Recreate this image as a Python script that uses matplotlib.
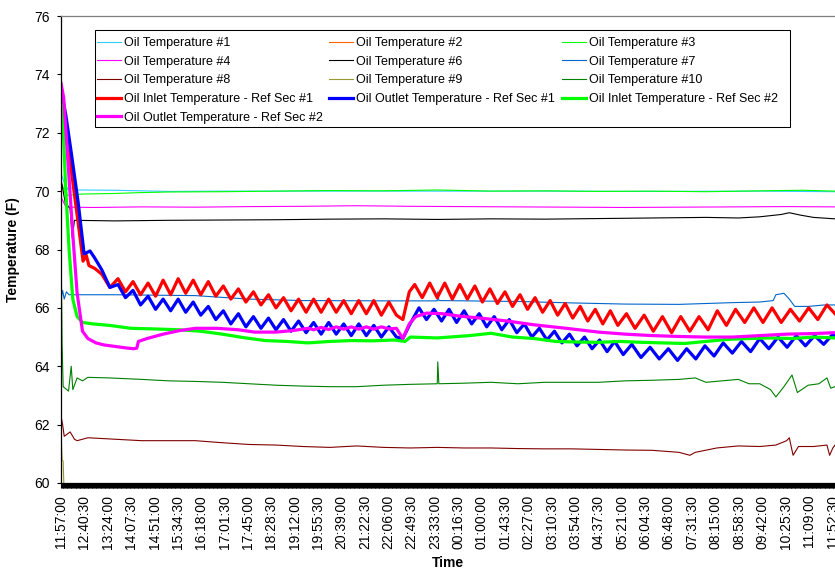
"""
Oil temperature log, 24 h run -- recreated as a static chart.
"""
import matplotlib
matplotlib.use("Agg")
import matplotlib.pyplot as plt
from matplotlib.legend import Legend
from matplotlib.lines import Line2D
from matplotlib.patches import Rectangle
from matplotlib.ticker import MultipleLocator

plt.rcParams["font.family"] = ["Liberation Sans", "DejaVu Sans"]

# time axis: minutes elapsed since 11:57:00
tick_minutes = [i * 43.5 for i in range(34)]
tick_labels = [
    "11:57:00", "12:40:30", "13:24:00", "14:07:30", "14:51:00", "15:34:30",
    "16:18:00", "17:01:30", "17:45:00", "18:28:30", "19:12:00", "19:55:30",
    "20:39:00", "21:22:30", "22:06:00", "22:49:30", "23:33:00", "00:16:30",
    "01:00:00", "01:43:30", "02:27:00", "03:10:30", "03:54:00", "04:37:30",
    "05:21:00", "06:04:30", "06:48:00", "07:31:30", "08:15:00", "08:58:30",
    "09:42:00", "10:25:30", "11:09:00", "11:52:30",
]

# ---- thin thermocouples ----
t_oil1 = [0, 6, 13, 22, 30, 100, 200, 300, 500, 700, 900, 1100, 1300, 1440]
oil1 = [70.6, 70.3, 70.05, 70.12, 70.04, 70.03, 69.99, 70.0, 70.0, 70.0,
        70.0, 69.99, 70.0, 69.98]

t_oil2 = [0, 1440]
oil2 = [57.5, 57.5]  # below the plotted range

t_oil3 = [0, 8, 13, 40, 100, 150, 200, 300, 400, 500, 600, 700, 800, 900,
          1000, 1100, 1200, 1300, 1380, 1440]
oil3 = [70.3, 69.95, 69.86, 69.9, 69.92, 69.95, 69.97, 69.98, 70.0, 70.02,
        70.01, 70.04, 70.0, 70.01, 69.99, 70.0, 69.98, 70.01, 70.03, 70.0]

t_oil4 = [0, 8, 14, 60, 150, 250, 350, 450, 550, 650, 750, 850, 950, 1050,
          1150, 1250, 1350, 1440]
oil4 = [69.8, 69.5, 69.45, 69.44, 69.46, 69.45, 69.47, 69.48, 69.5, 69.48,
        69.47, 69.46, 69.45, 69.44, 69.45, 69.46, 69.47, 69.46]

t_oil6 = [0, 8, 17, 21, 25, 100, 200, 300, 400, 500, 600, 700, 800, 900,
          1000, 1100, 1200, 1260, 1300, 1340, 1355, 1375, 1400, 1440]
oil6 = [70.4, 69.6, 69.4, 68.4, 69.0, 68.98, 69.0, 69.01, 69.02, 69.04,
        69.05, 69.03, 69.05, 69.04, 69.06, 69.08, 69.1, 69.08, 69.12, 69.2,
        69.26, 69.18, 69.1, 69.05]

t_oil7 = [0, 3, 6, 10, 15, 100, 250, 350, 450, 600, 700, 701, 703, 850,
          950, 1050, 1150, 1250, 1300, 1325, 1330, 1345, 1355, 1365, 1390,
          1420, 1440]
oil7 = [66.3, 66.6, 66.3, 66.55, 66.45, 66.45, 66.42, 66.3, 66.25, 66.24,
        66.24, 66.55, 66.25, 66.22, 66.17, 66.13, 66.12, 66.18, 66.2, 66.25,
        66.45, 66.5, 66.3, 66.05, 66.05, 66.1, 66.1]

t_oil8 = [0, 3, 6, 17, 25, 30, 50, 100, 150, 200, 250, 300, 350, 400, 450,
          500, 550, 600, 650, 700, 750, 800, 850, 900, 950, 1000, 1050, 1100,
          1150, 1170, 1180, 1220, 1260, 1300, 1330, 1350, 1355, 1362, 1372,
          1400, 1425, 1430, 1436, 1440]
oil8 = [62.3, 62.0, 61.6, 61.75, 61.5, 61.45, 61.55, 61.5, 61.45, 61.45,
        61.45, 61.38, 61.32, 61.3, 61.25, 61.22, 61.27, 61.22, 61.2, 61.22,
        61.2, 61.2, 61.18, 61.17, 61.17, 61.15, 61.13, 61.12, 61.05, 60.95,
        61.05, 61.2, 61.27, 61.25, 61.3, 61.45, 61.55, 60.95, 61.25, 61.25,
        61.3, 60.95, 61.2, 61.3]

t_oil9 = [0, 2, 4, 6, 10, 1440]
oil9 = [61.8, 60.8, 60.75, 59.5, 58.5, 58.5]  # drops out of range

t_oil10 = [0, 2, 4, 14, 19, 22, 30, 40, 50, 90, 150, 200, 250, 300, 350,
           400, 450, 500, 550, 600, 650, 700, 701, 703, 750, 800, 850, 900,
           950, 1000, 1050, 1100, 1150, 1180, 1200, 1230, 1260, 1280, 1300,
           1320, 1330, 1345, 1360, 1370, 1390, 1410, 1425, 1432, 1440]
oil10 = [68.5, 64.8, 63.3, 63.15, 64.0, 63.2, 63.6, 63.5, 63.62, 63.6,
         63.55, 63.5, 63.48, 63.45, 63.4, 63.35, 63.32, 63.3, 63.3, 63.35,
         63.38, 63.4, 64.15, 63.4, 63.42, 63.45, 63.4, 63.45, 63.45, 63.45,
         63.5, 63.52, 63.55, 63.6, 63.45, 63.5, 63.55, 63.4, 63.4, 63.2,
         62.95, 63.3, 63.7, 63.1, 63.35, 63.4, 63.6, 63.25, 63.3]

# ---- reference-section inlet/outlet (thick) ----
t_in1 = [0, 9, 20, 32, 41, 47, 52, 63, 76, 91,
         106, 120, 134, 148, 162, 176, 190, 204, 218, 232, 246, 260, 274,
         288, 302, 316, 330, 344, 358, 372, 386, 400, 414, 428, 442, 456,
         470, 484, 498, 512, 526, 540, 554, 568, 582, 596, 610, 624, 636,
         648, 658, 672, 686, 700, 714, 728, 742, 756, 770, 784, 798, 812,
         826, 840, 854, 868, 882, 896, 910, 924, 938, 952, 966, 980, 994,
         1008, 1022, 1036, 1052, 1068, 1085, 1102, 1119, 1136, 1153, 1170,
         1187, 1204, 1221, 1238, 1255, 1272, 1289, 1306, 1323, 1340, 1357,
         1374, 1391, 1408, 1425, 1440]
inlet1 = [73.4, 72.3, 70.6, 68.9, 67.6, 67.8, 67.45, 67.35, 67.15, 66.7,
          67.0, 66.55, 66.9, 66.45, 66.85, 66.4, 66.95, 66.45, 67.0, 66.5,
          66.95, 66.45, 66.9, 66.4, 66.75, 66.3, 66.65, 66.2, 66.55, 66.1,
          66.45, 66.0, 66.35, 65.9, 66.3, 65.85, 66.3, 65.85, 66.3, 65.85,
          66.25, 65.8, 66.25, 65.8, 66.25, 65.75, 66.2, 65.75, 65.6,
          66.55, 66.8, 66.35, 66.85, 66.35, 66.85, 66.3, 66.8, 66.3, 66.75,
          66.2, 66.65, 66.15, 66.55, 66.05, 66.45, 65.95, 66.35, 65.85,
          66.25, 65.75, 66.15, 65.65, 66.05, 65.55, 65.95, 65.45, 65.9,
          65.4, 65.8, 65.3, 65.75, 65.2, 65.7, 65.15, 65.7, 65.2, 65.7,
          65.25, 65.9, 65.4, 65.95, 65.5, 66.0, 65.5, 66.0, 65.5, 65.95,
          65.55, 66.0, 65.6, 66.1, 65.8]

t_out1 = [0, 9, 20, 32, 43, 54, 63, 76, 91,
          106, 120, 134, 148, 162, 176, 190, 204, 218, 232, 246, 260, 274,
          288, 302, 316, 330, 344, 358, 372, 386, 400, 414, 428, 442, 456,
          470, 484, 498, 512, 526, 540, 554, 568, 582, 596, 610, 624, 636,
          648, 666, 680, 694, 708, 722, 736, 750, 764, 778, 792, 806, 820,
          834, 848, 862, 876, 890, 904, 918, 932, 946, 960, 974, 988, 1002,
          1016, 1030, 1046, 1062, 1079, 1096, 1113, 1130, 1147, 1164, 1181,
          1198, 1215, 1232, 1249, 1266, 1283, 1300, 1317, 1334, 1351, 1368,
          1385, 1402, 1419, 1436, 1440]
outlet1 = [73.5, 72.6, 71.2, 69.6, 67.85, 67.95, 67.7, 67.3, 66.7,
           66.8, 66.35, 66.6, 66.1, 66.4, 65.95, 66.3, 65.9, 66.3, 65.85,
           66.2, 65.75, 66.05, 65.6, 65.9, 65.45, 65.8, 65.35, 65.7, 65.3,
           65.65, 65.25, 65.6, 65.2, 65.55, 65.15, 65.5, 65.1, 65.5, 65.1,
           65.45, 65.05, 65.45, 65.05, 65.4, 65.0, 65.35, 65.0, 64.95,
           65.4, 66.0, 65.6, 65.95, 65.55, 65.95, 65.5, 65.9, 65.45, 65.8,
           65.35, 65.7, 65.25, 65.6, 65.15, 65.45, 65.0, 65.3, 64.9, 65.2,
           64.8, 65.1, 64.7, 65.0, 64.6, 64.9, 64.5, 64.85, 64.4, 64.75,
           64.3, 64.65, 64.25, 64.6, 64.2, 64.6, 64.25, 64.7, 64.35, 64.8,
           64.45, 64.85, 64.5, 64.95, 64.6, 65.0, 64.65, 65.05, 64.7, 65.05,
           64.75, 65.1, 65.05]

t_in2 = [0, 4, 9, 15, 22, 30, 40, 60, 90, 130, 170, 220, 260, 300, 340,
         380, 420, 460, 500, 540, 580, 620, 640, 650, 700, 760, 800, 840,
         880, 920, 960, 1000, 1040, 1080, 1120, 1160, 1200, 1240, 1280,
         1320, 1360, 1400, 1440]
inlet2 = [73.1, 72.2, 70.0, 68.0, 66.3, 65.7, 65.5, 65.45, 65.4, 65.3,
          65.28, 65.25, 65.2, 65.1, 64.98, 64.88, 64.85, 64.8, 64.85, 64.88,
          64.87, 64.9, 64.85, 65.0, 64.97, 65.05, 65.13, 65.0, 64.95, 64.85,
          64.83, 64.82, 64.85, 64.82, 64.8, 64.78, 64.85, 64.92, 64.95,
          64.97, 64.95, 65.0, 64.97]

t_out2 = [0, 5, 13, 22, 30, 40, 50, 65, 80, 100, 120, 135, 141, 144, 160,
          190, 220, 250, 290, 330, 360, 400, 430, 460, 470, 484, 498, 512,
          526, 540, 554, 568, 582, 596, 610, 624, 636, 648, 660, 680, 710,
          740, 780, 830, 880, 940, 1000, 1050, 1100, 1150, 1200, 1250, 1300,
          1350, 1400, 1440]
outlet2 = [73.7, 73.2, 71.0, 68.5, 66.5, 65.2, 64.95, 64.8, 64.73, 64.68,
           64.63, 64.6, 64.62, 64.85, 64.95, 65.1, 65.22, 65.3, 65.3, 65.25,
           65.17, 65.17, 65.22, 65.3, 65.25, 65.33, 65.26, 65.35, 65.27,
           65.35, 65.27, 65.35, 65.27, 65.35, 65.28, 65.3, 64.95, 65.45,
           65.7, 65.82, 65.8, 65.72, 65.65, 65.55, 65.42, 65.3, 65.17, 65.1,
           65.05, 65.02, 65.0, 65.0, 65.05, 65.1, 65.12, 65.15]

THIN = 0.8
THICK = 2.3
series = [
    ("Oil Temperature #1", t_oil1, oil1, "#33CCFF", THIN),
    ("Oil Temperature #2", t_oil2, oil2, "#FF6600", THIN),
    ("Oil Temperature #3", t_oil3, oil3, "#00FF00", THIN),
    ("Oil Temperature #4", t_oil4, oil4, "#FF00FF", THIN),
    ("Oil Temperature #6", t_oil6, oil6, "#000000", THIN),
    ("Oil Temperature #7", t_oil7, oil7, "#0066CC", THIN),
    ("Oil Temperature #8", t_oil8, oil8, "#800000", THIN),
    ("Oil Temperature #9", t_oil9, oil9, "#999933", THIN),
    ("Oil Temperature #10", t_oil10, oil10, "#008000", THIN),
    ("Oil Inlet Temperature - Ref Sec #1", t_in1, inlet1, "#FF0000", THICK),
    ("Oil Outlet Temperature - Ref Sec #1", t_out1, outlet1, "#0000FF", THICK),
    ("Oil Inlet Temperature - Ref Sec #2", t_in2, inlet2, "#00FF00", THICK),
    ("Oil Outlet Temperature - Ref Sec #2", t_out2, outlet2, "#FF00FF", THICK),
]

fig = plt.figure(figsize=(8.35, 5.7), dpi=100)
ax = fig.add_axes([61 / 835, 87 / 570, 774 / 835, 467 / 570])

handles = {}
for label, t, v, color, lw in series:
    ax.plot(t, v, color=color, linewidth=lw, solid_joinstyle="round")
    handles[label] = Line2D([], [], color=color, linewidth=lw)

ax.set_xlim(0, 1440)
ax.set_ylim(60, 76)
ax.set_yticks(range(60, 77, 2))
ax.set_xticks(tick_minutes)
ax.set_xticklabels(tick_labels, rotation=90, fontsize=10)
ax.xaxis.set_minor_locator(MultipleLocator(1.5))
ax.tick_params(axis="x", which="major", direction="out", length=3.5,
               width=0.8, pad=5)
ax.tick_params(axis="x", which="minor", direction="out", length=3.5,
               width=0.9)
ax.tick_params(axis="y", direction="out", length=3, width=0.8, pad=5,
               labelsize=10)

ax.spines["right"].set_visible(False)
ax.spines["top"].set_color("#808080")
ax.spines["top"].set_linewidth(0.9)
ax.spines["left"].set_linewidth(0.9)
ax.spines["bottom"].set_linewidth(0.9)

ax.set_ylabel("Temperature (F)", fontsize=10, fontweight="bold")
ax.yaxis.set_label_coords(-0.053, 0.5)
ax.set_xlabel("Time", fontsize=10, fontweight="bold")
ax.xaxis.set_label_coords(0.5, -0.157)

# legend: white box with three hand-placed columns
ax.add_patch(Rectangle((0.0439, 0.7623), 0.8979, 0.2077,
                       transform=ax.transAxes, facecolor="white",
                       edgecolor="black", linewidth=0.75, zorder=4))
columns = [
    ["Oil Temperature #1", "Oil Temperature #4", "Oil Temperature #8",
     "Oil Inlet Temperature - Ref Sec #1", "Oil Outlet Temperature - Ref Sec #2"],
    ["Oil Temperature #2", "Oil Temperature #6", "Oil Temperature #9",
     "Oil Outlet Temperature - Ref Sec #1"],
    ["Oil Temperature #3", "Oil Temperature #7", "Oil Temperature #10",
     "Oil Inlet Temperature - Ref Sec #2"],
]
col_x = [0.0465, 0.3463, 0.6473]
for names, x0 in zip(columns, col_x):
    leg = Legend(ax, [handles[n] for n in names], names, loc="upper left",
                 bbox_to_anchor=(x0, 0.955), frameon=False, fontsize=9,
                 borderpad=0, borderaxespad=0, handlelength=1.92,
                 handletextpad=0.24, labelspacing=0.53)
    leg.set_zorder(5)
    ax.add_artist(leg)

fig.savefig("out.png", dpi=100)
plt.close(fig)
